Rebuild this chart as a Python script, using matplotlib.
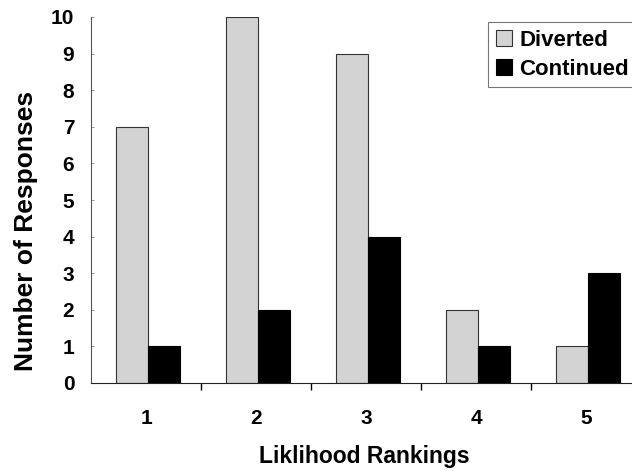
import matplotlib.pyplot as plt
import numpy as np

rankings = ['1', '2', '3', '4', '5']
diverted = [7, 10, 9, 2, 1]
continued = [1, 2, 4, 1, 3]

plt.rcParams['font.family'] = ['Liberation Sans', 'DejaVu Sans']
plt.rcParams['font.weight'] = 'bold'

W, H = 632, 471
fig = plt.figure(figsize=(W / 100, H / 100), dpi=100)
ax = fig.add_axes([91 / W, 1 - 383 / H, 550 / W, 366 / H])

x = np.arange(len(rankings))
w = 0.29
ax.bar(x - w / 2 + 0.02, diverted, w, color='#d3d3d3', edgecolor='#333333', linewidth=0.8, label='Diverted')
ax.bar(x + w / 2 + 0.02, continued, w, color='black', edgecolor='black', linewidth=0.8, label='Continued')

ax.set_xlim(-0.5, 4.5)
ax.set_ylim(0, 10)

for side in ['top', 'right']:
    ax.spines[side].set_visible(False)
ax.spines['left'].set_color('#555555')
ax.spines['bottom'].set_color('#222222')

ax.set_yticks(range(0, 11))
ax.tick_params(axis='y', length=2, width=0.6, color='#888888', direction='in', pad=12, labelsize=15)

# labels sit under each group, tick marks between groups
ax.set_xticks(np.arange(0.5, 4.5, 1))
ax.set_xticklabels([])
ax.set_xticks(x, minor=True)
ax.set_xticklabels(rankings, minor=True)
ax.tick_params(axis='x', which='major', length=5, width=1, direction='out')
ax.tick_params(axis='x', which='minor', length=0, pad=19, labelsize=15)

fig.text(364 / W, 1 - 457 / H, 'Liklihood Rankings', ha='center', va='center', fontsize=16.5, fontweight='bold')
fig.text(26 / W, 1 - 371 / H, 'Number of Responses', rotation=90, ha='center', va='bottom',
         fontsize=19, fontweight='bold')

leg = ax.legend(loc='upper left', bbox_to_anchor=(488 / W, 1 - 22 / H), bbox_transform=fig.transFigure,
                fontsize=16, frameon=True, fancybox=False, edgecolor='#555555',
                handlelength=0.75, handleheight=0.75, handletextpad=0.3, borderpad=0.35,
                labelspacing=0.35, borderaxespad=0)
leg.get_frame().set_linewidth(0.8)

fig.savefig('out.png', dpi=100)
